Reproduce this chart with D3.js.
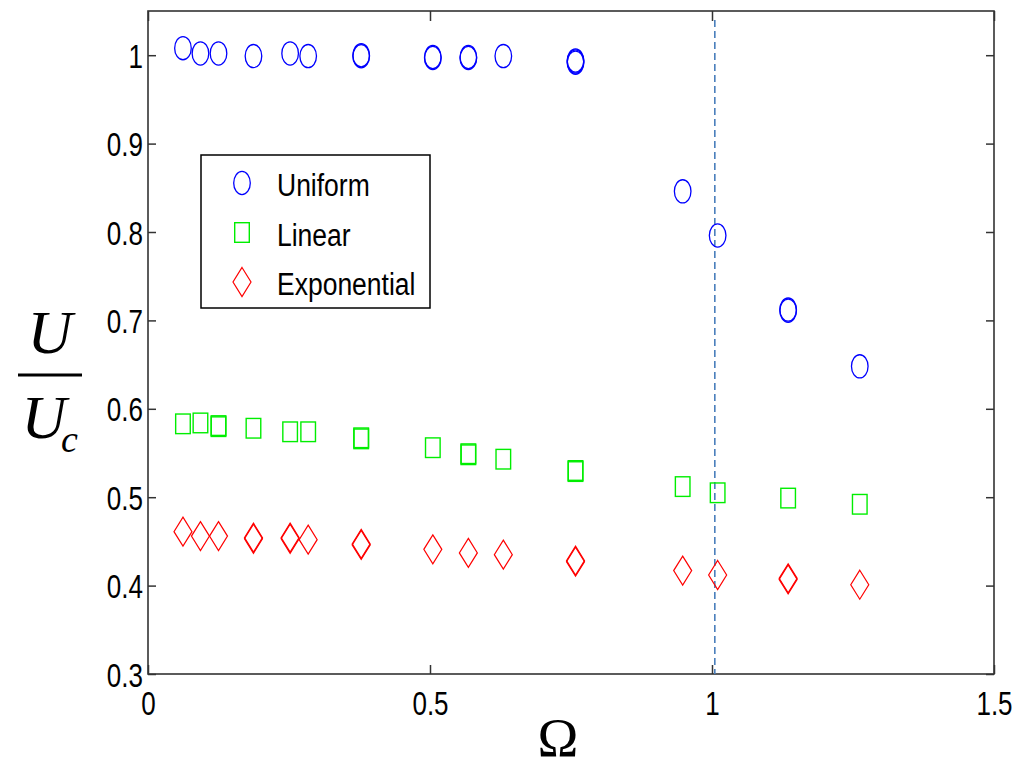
<!DOCTYPE html>
<html>
<head>
<meta charset="utf-8">
<script src="https://cdn.jsdelivr.net/npm/d3@7"></script>
<style>
  body { margin: 0; background: #fff; }
  svg { display: block; }
</style>
</head>
<body>
<div id="chart"></div>
<script>
// Data
let omega = [0.062, 0.093, 0.125, 0.187, 0.252, 0.284, 0.378, 0.505, 0.568, 0.630, 0.758, 0.948, 1.010, 1.135, 1.262];
let uniform = [1.008, 1.002, 1.002, 0.999, 1.002, 0.999, 1.000, 0.998, 0.998, 0.999, 0.994, 0.846, 0.796, 0.711, 0.648];
let linear = [0.583, 0.584, 0.581, 0.578, 0.574, 0.574, 0.566, 0.556, 0.548, 0.543, 0.529, 0.512, 0.505, 0.499, 0.492];
let exponential = [0.461, 0.456, 0.456, 0.453, 0.453, 0.452, 0.446, 0.441, 0.437, 0.435, 0.427, 0.417, 0.412, 0.407, 0.401];

// repeated runs that overlap the points above (these give the thick markers)
let uniformRepeat = [[0.378, 0.9988], [0.505, 0.9968], [0.568, 0.9968], [0.758, 0.9928], [0.758, 0.9916], [1.135, 0.7122]];
let linearRepeat = [[0.125, 0.5798], [0.378, 0.5672], [0.568, 0.5492], [0.758, 0.5302]];
let exponentialRepeat = [[0.187, 0.4542], [0.252, 0.4542], [0.378, 0.4472], [0.758, 0.4282], [1.135, 0.4082]];

let criticalOmega = 1.005;

let xTicks = [0, 0.5, 1, 1.5];
let yTicks = [0.3, 0.4, 0.5, 0.6, 0.7, 0.8, 0.9, 1];
let seriesNames = ["Uniform", "Linear", "Exponential"];

//Options
let W = 1030, H = 763;
let pLeft = 148, pRight = 994, pTop = 11, pBottom = 674;
let tickFont = "'Liberation Sans', Arial, sans-serif";

let svg = d3.select("#chart").append("svg")
    .attr("width", W)
    .attr("height", H);

svg.append("rect").attr("width", W).attr("height", H).style("fill", "#fff");

let x = d3.scaleLinear().domain([0, 1.5]).range([pLeft, pRight]);
let y = d3.scaleLinear().domain([0.3, 1.05]).range([pBottom, pTop]);

let fmt = d => String(d);

// axes, ticks pointing in like matlab
let xAx = svg.append("g")
    .attr("transform", `translate(0,${pBottom})`)
    .call(d3.axisBottom(x).tickValues(xTicks).tickSizeInner(-9).tickSizeOuter(0).tickFormat(fmt));
xAx.selectAll("text")
    .attr("y", 41 / 1.25).attr("dy", 0)
    .attr("transform", "scale(1,1.25)")
    .style("font-family", tickFont).style("font-size", "26px").style("fill", "#000");

svg.append("g")
    .attr("transform", `translate(0,${pTop})`)
    .call(d3.axisTop(x).tickValues(xTicks).tickSizeInner(-10).tickSizeOuter(0).tickFormat(""));

let yAx = svg.append("g")
    .attr("transform", `translate(${pLeft},0)`)
    .call(d3.axisLeft(y).tickValues(yTicks).tickSizeInner(-8).tickSizeOuter(0).tickFormat(fmt));
yAx.selectAll("text")
    .attr("x", -5).attr("y", 12 / 1.25).attr("dy", 0)
    .attr("transform", "scale(1,1.25)")
    .style("font-family", tickFont).style("font-size", "26px").style("fill", "#000");

svg.append("g")
    .attr("transform", `translate(${pRight},0)`)
    .call(d3.axisRight(y).tickValues(yTicks).tickSizeInner(-8).tickSizeOuter(0).tickFormat(""));

svg.selectAll(".domain").remove();
svg.selectAll(".tick line").style("stroke", "#333").style("stroke-width", 1.5);

// plot box
svg.append("rect")
    .attr("x", pLeft).attr("y", pTop)
    .attr("width", pRight - pLeft).attr("height", pBottom - pTop)
    .style("fill", "none").style("stroke", "#333").style("stroke-width", 1.6);

// dashed line at the critical omega
svg.append("line")
    .attr("x1", x(criticalOmega)).attr("x2", x(criticalOmega))
    .attr("y1", y(1.05) + 9).attr("y2", y(0.3))
    .style("stroke", "#4a7ebb").style("stroke-width", 1.6)
    .style("stroke-dasharray", "7,4");

// marker shapes
function circleAt(g, cx, cy) {
    g.append("ellipse").attr("cx", cx).attr("cy", cy).attr("rx", 8.3).attr("ry", 11.6)
        .style("fill", "none").style("stroke", "#0000ff").style("stroke-width", 1.3);
}
function squareAt(g, cx, cy) {
    g.append("rect").attr("x", cx - 7.3).attr("y", cy - 9.8).attr("width", 14.6).attr("height", 19.6)
        .style("fill", "none").style("stroke", "#00ee00").style("stroke-width", 1.4);
}
function diamondAt(g, cx, cy) {
    g.append("path")
        .attr("d", `M${cx},${cy - 14.5}L${cx + 9},${cy}L${cx},${cy + 14.5}L${cx - 9},${cy}Z`)
        .style("fill", "none").style("stroke", "#ff0000").style("stroke-width", 1.2);
}

let pts = svg.append("g").attr("id", "points");
let series = [
    {vals: uniform, rep: uniformRepeat, draw: circleAt},
    {vals: linear, rep: linearRepeat, draw: squareAt},
    {vals: exponential, rep: exponentialRepeat, draw: diamondAt}
];
series.forEach(s => {
    omega.forEach((o, i) => s.draw(pts, x(o), y(s.vals[i])));
    s.rep.forEach(d => s.draw(pts, x(d[0]), y(d[1])));
});

// legend
let leg = svg.append("g").attr("id", "legend");
leg.append("rect")
    .attr("x", 201).attr("y", 155).attr("width", 229).attr("height", 153)
    .style("fill", "#fff").style("stroke", "#000").style("stroke-width", 1.5);
seriesNames.forEach((name, i) => {
    let base = 196 + i * 49.5;
    series[i].draw(leg, 242, base - 13);
    leg.append("text")
        .attr("transform", `translate(277,${base}) scale(1,1.17)`)
        .style("font-family", tickFont).style("font-size", "26.5px")
        .text(name);
});

// y label U / U_c
let yl = svg.append("g").attr("id", "ylabel")
    .style("font-family", "'Liberation Serif', 'Times New Roman', serif")
    .style("font-style", "italic");
yl.append("text").attr("x", 50).attr("y", 353).attr("text-anchor", "middle")
    .style("font-size", "62px").text("U");
yl.append("line").attr("x1", 18).attr("x2", 82).attr("y1", 375).attr("y2", 375)
    .style("stroke", "#000").style("stroke-width", 3);
yl.append("text").attr("x", 44).attr("y", 438).attr("text-anchor", "middle")
    .style("font-size", "62px").text("U");
yl.append("text").attr("x", 61).attr("y", 452)
    .style("font-size", "38px").text("c");

// x label
svg.append("text")
    .attr("x", 558).attr("y", 756).attr("text-anchor", "middle")
    .style("font-family", "'Liberation Serif', 'Times New Roman', serif")
    .style("font-size", "55px")
    .text("Ω");
</script>
</body>
</html>
